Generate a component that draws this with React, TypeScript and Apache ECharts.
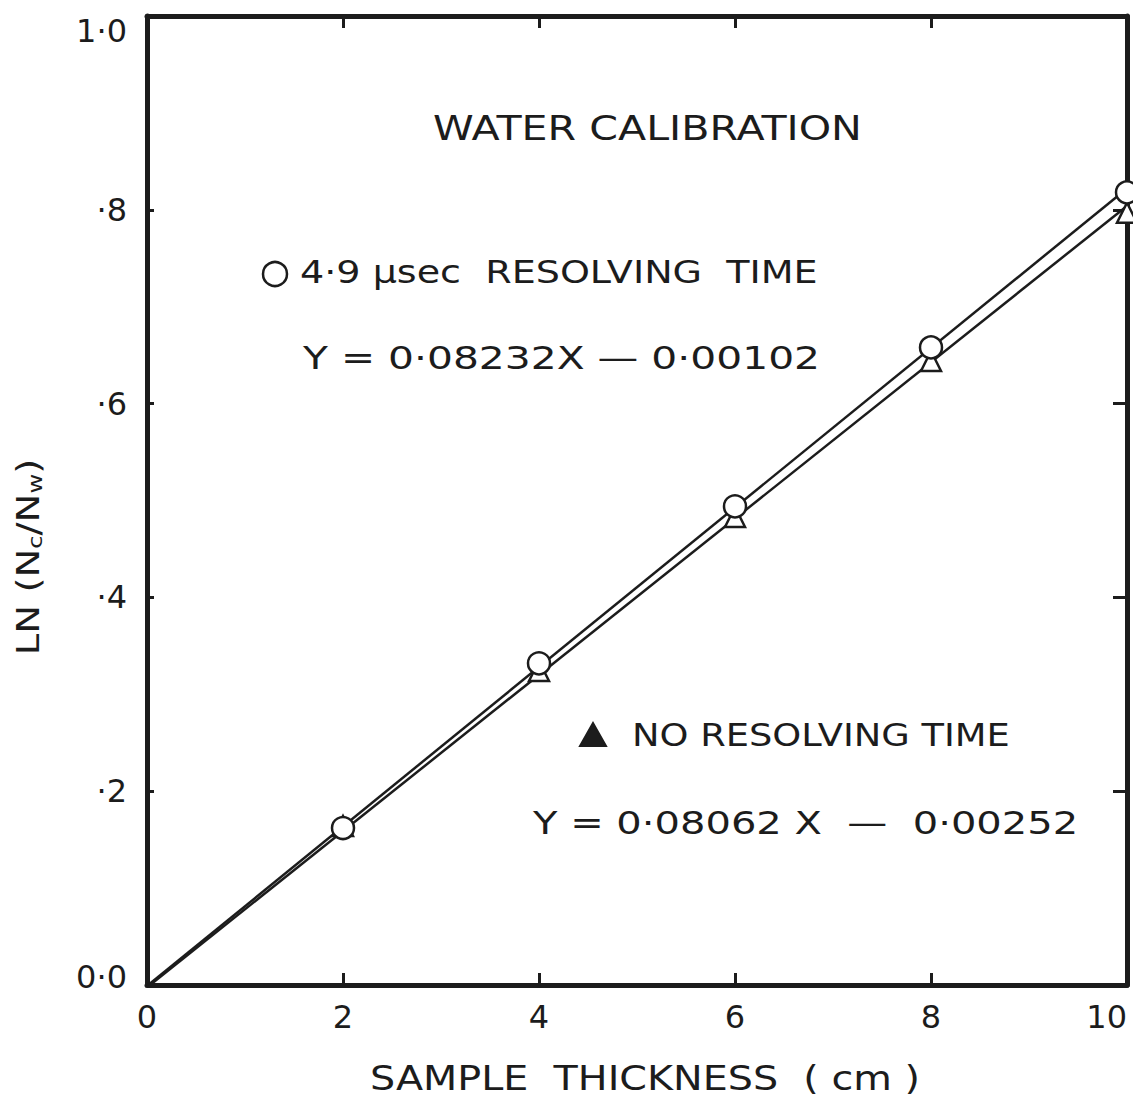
import React, { useEffect, useRef } from "react";
import * as echarts from "echarts";

const xTicks = [0, 2, 4, 6, 8, 10];
const xTickLabels = ["0", "2", "4", "6", "8", "10"];
const yTicks = [0, 0.2, 0.4, 0.6, 0.8, 1.0];
const yTickLabels = ["0·0", "·2", "·4", "·6", "·8", "1·0"];

const thickness = [2, 4, 6, 8, 10];
const withResolving = [0.162, 0.332, 0.494, 0.658, 0.818];
const noResolving = [0.164, 0.324, 0.483, 0.644, 0.797];

const fitWithX = [0, 10];
const fitWithY = [-0.001, 0.822];
const fitNoX = [0, 10];
const fitNoY = [-0.0025, 0.804];

const FONT = "DejaVu Sans";
const INK = "#1c1c1c";

function measure(text: string, size: number): number {
  const c = document.createElement("canvas").getContext("2d")!;
  c.font = `${size}px '${FONT}'`;
  return c.measureText(text).width;
}

function stretched(text: string, size: number, left: number, right: number, cy: number) {
  const w = measure(text, size);
  return {
    type: "text",
    x: left,
    y: cy,
    scaleX: (right - left) / w,
    style: { text, font: `${size}px '${FONT}'`, fill: INK, align: "left", verticalAlign: "middle" },
  };
}

export default function App() {
  const ref = useRef<HTMLDivElement>(null);
  useEffect(() => {
    document.body.style.margin = "0";
    const chart = echarts.init(ref.current!, null, { renderer: "svg" });
    const labelStyle = { fontFamily: FONT, fontSize: 32, color: INK };
    const frame = { show: true, onZero: false, lineStyle: { color: INK, width: 5 } };

    const yNameW = measure("LN (N/N)", 32) + 2 * measure("c", 20);
    const yScale = 190 / yNameW;

    chart.setOption({
      animation: false,
      backgroundColor: "#ffffff",
      grid: { left: 147, right: 6, top: 16, bottom: 113, outerBoundsMode: "none" },
      xAxis: [
        {
          type: "value",
          min: 0,
          max: 10,
          interval: 2,
          position: "bottom",
          axisLine: frame,
          axisTick: { show: true, inside: true, length: 12, lineStyle: { color: INK, width: 3 } },
          axisLabel: {
            ...labelStyle,
            margin: 16,
            alignMaxLabel: "right",
            formatter: (v: number) => xTickLabels[xTicks.indexOf(v)] ?? "",
          },
          splitLine: { show: false },
        },
        {
          type: "value",
          min: 0,
          max: 10,
          interval: 2,
          position: "top",
          axisLine: frame,
          axisTick: { show: true, inside: true, length: 12, lineStyle: { color: INK, width: 3 } },
          axisLabel: { show: false },
          splitLine: { show: false },
        },
      ],
      yAxis: [
        {
          type: "value",
          min: 0,
          max: 1,
          interval: 0.2,
          position: "left",
          axisLine: frame,
          axisTick: { show: true, inside: true, length: 7, lineStyle: { color: INK, width: 3 } },
          axisLabel: {
            ...labelStyle,
            margin: 20,
            formatter: (v: number) => {
              const i = yTicks.findIndex((t) => Math.abs(t - v) < 1e-6);
              if (i < 0) return "";
              if (i === yTicks.length - 1) return `{top|${yTickLabels[i]}}`;
              if (i === 0) return `{bot|${yTickLabels[i]}}`;
              return yTickLabels[i];
            },
            rich: {
              top: { fontFamily: FONT, fontSize: 32, color: INK, padding: [30, 0, 0, 0] },
              bot: { fontFamily: FONT, fontSize: 32, color: INK, padding: [0, 0, 16, 0] },
            },
          },
          splitLine: { show: false },
        },
        {
          type: "value",
          min: 0,
          max: 1,
          interval: 0.2,
          position: "right",
          axisLine: frame,
          axisTick: { show: true, inside: true, length: 14, lineStyle: { color: INK, width: 3 } },
          axisLabel: { show: false },
          splitLine: { show: false },
        },
      ],
      series: [
        {
          type: "line",
          data: fitWithX.map((x, i) => [x, fitWithY[i]]),
          symbol: "none",
          lineStyle: { color: INK, width: 2.5 },
          z: 2,
        },
        {
          type: "line",
          data: fitNoX.map((x, i) => [x, fitNoY[i]]),
          symbol: "none",
          lineStyle: { color: INK, width: 2.5 },
          z: 2,
        },
        {
          type: "scatter",
          data: thickness.map((x, i) => [x, noResolving[i]]),
          symbol: "triangle",
          symbolSize: 20,
          itemStyle: { color: "#ffffff", borderColor: INK, borderWidth: 2.5, opacity: 1 },
          z: 3,
        },
        {
          type: "scatter",
          data: thickness.map((x, i) => [x, withResolving[i]]),
          symbol: "circle",
          symbolSize: 22,
          itemStyle: { color: "#ffffff", borderColor: INK, borderWidth: 2.5, opacity: 1 },
          z: 4,
        },
      ],
      graphic: [
        stretched("WATER CALIBRATION", 34, 433, 862, 128),
        {
          type: "circle",
          shape: { cx: 275, cy: 274, r: 12 },
          style: { fill: "#ffffff", stroke: INK, lineWidth: 2.5 },
        },
        stretched("4·9 µsec  RESOLVING  TIME", 32, 300, 818, 272),
        stretched("Y = 0·08232X — 0·00102", 32, 303, 820, 358),
        {
          type: "polygon",
          shape: { points: [[593, 723], [580, 746], [606, 746]] },
          style: { fill: INK, stroke: INK, lineWidth: 2 },
        },
        stretched("NO RESOLVING TIME", 32, 632, 1010, 735),
        stretched("Y = 0·08062 X  —  0·00252", 32, 533, 1078, 823),
        stretched("SAMPLE  THICKNESS  ( cm )", 34, 370, 920, 1078),
        {
          type: "text",
          x: 28,
          y: 557,
          rotation: Math.PI / 2,
          scaleX: yScale,
          style: {
            text: "LN (N{s|c}/N{s|w})",
            font: `32px '${FONT}'`,
            fill: INK,
            align: "center",
            verticalAlign: "middle",
            rich: {
              s: { fontFamily: FONT, fontSize: 20, fill: INK, padding: [14, 0, 0, 0] },
            },
          },
        },
      ],
    });
    return () => chart.dispose();
  }, []);
  return <div ref={ref} style={{ width: 1133, height: 1098 }} />;
}
